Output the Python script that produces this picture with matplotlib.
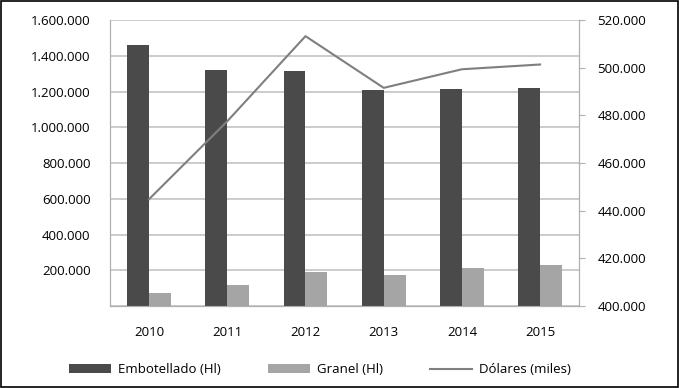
import matplotlib.pyplot as plt
import matplotlib.ticker as mticker
from matplotlib.patches import Rectangle
import numpy as np

years = ['2010', '2011', '2012', '2013', '2014', '2015']
embotellado = [1460000, 1324000, 1315000, 1212000, 1214000, 1221000]
granel = [74000, 117000, 192000, 173000, 213000, 229000]
dolares = [444900, 477600, 513300, 491600, 499400, 501400]

plt.rcParams['font.family'] = ['Open Sans', 'DejaVu Sans']
plt.rcParams['font.size'] = 9.5

def dots(v, pos):
    return '{:,.0f}'.format(v).replace(',', '.')

fig = plt.figure(figsize=(6.79, 3.88), dpi=100)
ax = fig.add_axes([0.162, 0.211, 0.691, 0.737])
ax2 = ax.twinx()

x = np.arange(len(years))
w = 0.28
b1 = ax.bar(x - w/2, embotellado, w, color='#4a4a4a', zorder=3)
b2 = ax.bar(x + w/2, granel, w, color='#a5a5a5', zorder=3)
l1, = ax2.plot(x, dolares, color='#7f7f7f', lw=1.5)

ax.set_xlim(-0.5, 5.5)
ax.set_ylim(0, 1600000)
ax.set_yticks(np.arange(0, 1600001, 200000))
ax.yaxis.set_major_formatter(mticker.FuncFormatter(lambda v, p: '' if v == 0 else dots(v, p)))
ax.grid(axis='y', color='#c4c4c4', lw=1.2, zorder=0)
ax.set_xticks(x)
ax.set_xticklabels(years)
ax.tick_params(axis='x', length=0, pad=14)
ax.tick_params(axis='y', length=0, pad=14)

ax2.set_ylim(400000, 520000)
ax2.set_yticks(np.arange(400000, 520001, 20000))
ax2.yaxis.set_major_formatter(mticker.FuncFormatter(dots))
ax2.tick_params(axis='y', length=4, color='#b0b0b0', pad=9)

for a in (ax, ax2):
    for s in a.spines.values():
        s.set_color('#b0b0b0')
    a.spines['top'].set_visible(False)

fig.legend([b1, b2, l1], ['Embotellado (Hl)', 'Granel (Hl)', 'Dólares (miles)'],
           loc='lower center', bbox_to_anchor=(0.471, 0.0), ncol=3, frameon=False,
           handlelength=3.2, handleheight=0.6, handletextpad=0.5,
           columnspacing=3.6, fontsize=9.5)

fig.patches.append(Rectangle((0.002, 0.003), 0.996, 0.994, transform=fig.transFigure,
                             fill=False, edgecolor='black', lw=1.2))

fig.savefig('out.png', dpi=100)
